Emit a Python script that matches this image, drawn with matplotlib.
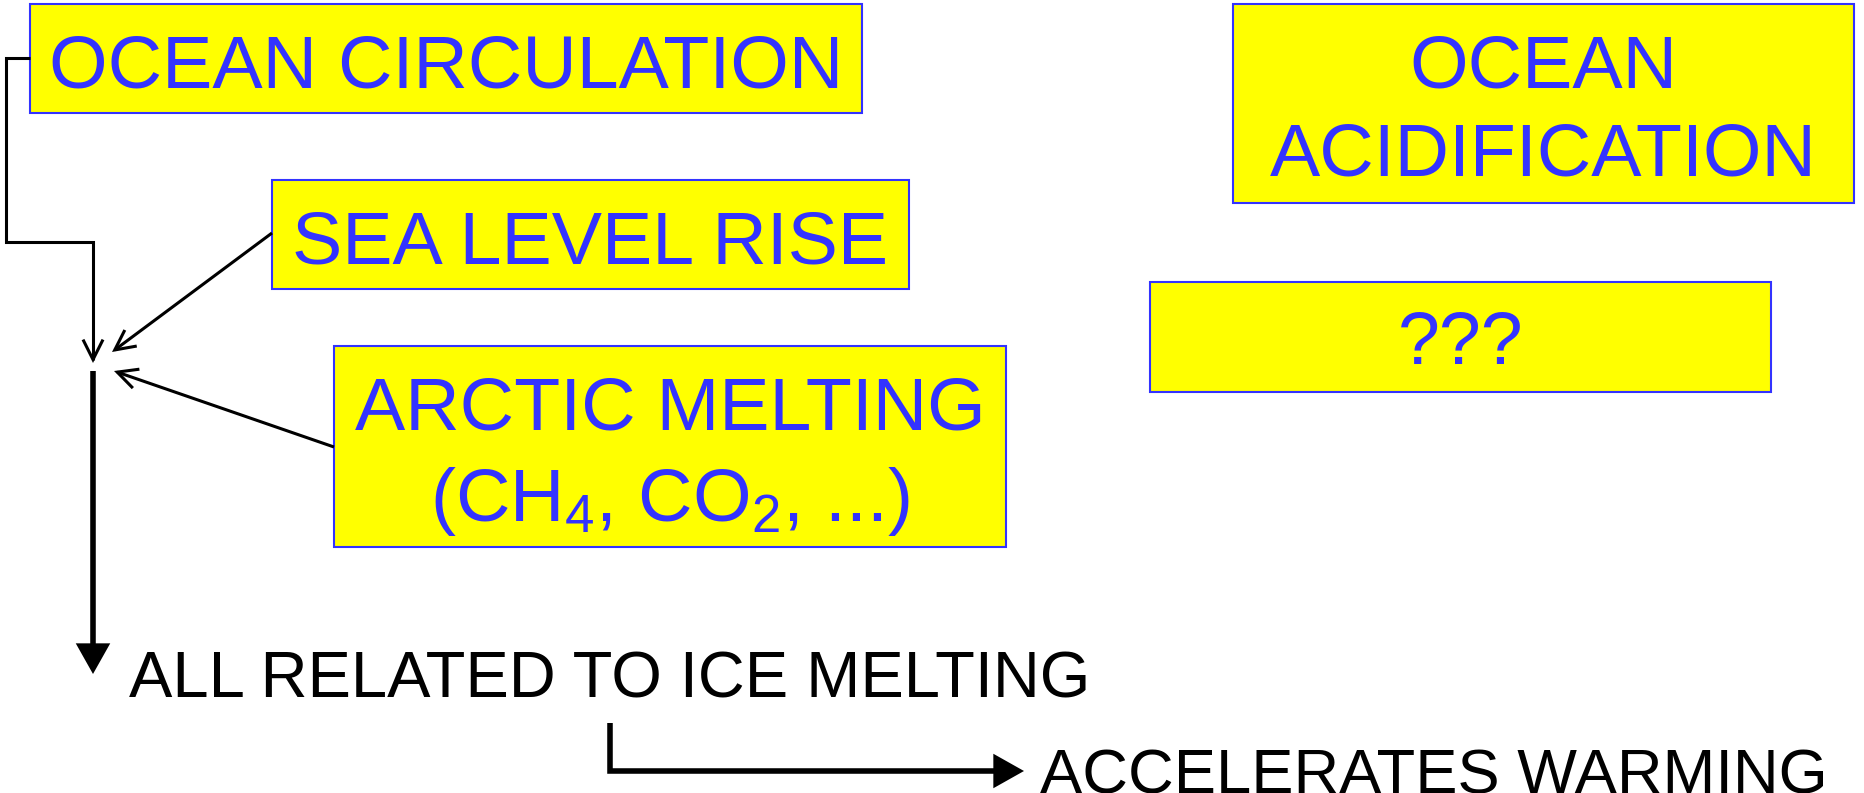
import matplotlib
matplotlib.use("Agg")
import matplotlib.pyplot as plt
from matplotlib.patches import Rectangle, FancyArrowPatch
from matplotlib.path import Path

plt.rcParams['font.family'] = ['Liberation Sans', 'DejaVu Sans']
plt.rcParams['mathtext.fontset'] = 'custom'
plt.rcParams['mathtext.rm'] = 'Liberation Sans'
plt.rcParams['mathtext.default'] = 'regular'

# boxes (pixel frame of the slide, y downwards)
box_lines = [
    ["OCEAN CIRCULATION"],
    ["SEA LEVEL RISE"],
    ["ARCTIC MELTING", "(CH$_4$, CO$_2$, ...)"],
    ["OCEAN", "ACIDIFICATION"],
    ["???"],
]
box_left = [30, 272, 334, 1233, 1150]
box_right = [862, 909, 1006, 1854, 1771]
box_top = [4, 180, 346, 4, 282]
box_bottom = [113, 289, 547, 203, 392]
line_baselines = [[88], [263], [429, 521], [88, 176], [364]]

# plain black statements
note_texts = ["ALL RELATED TO ICE MELTING", "ACCELERATES WARMING"]
note_x = [129, 1040]
note_y = [698, 794]

# connectors: polylines ending in an arrow head
thin_paths = [
    [(30, 58), (6, 58), (6, 242), (93, 242), (93, 363)],
    [(272, 233), (112, 352)],
    [(334, 447), (114, 371)],
]
thick_paths = [
    [(93, 371), (93, 674)],
    [(610, 723), (610, 771), (1024, 771)],
]

blue = "#3333FF"
yellow = "#FFFF00"

fig = plt.figure(figsize=(18.64, 7.93), dpi=100)
ax = fig.add_axes([0, 0, 1, 1])
ax.set_xlim(0, 1864)
ax.set_ylim(793, 0)
ax.axis("off")

for i, lines in enumerate(box_lines):
    w = box_right[i] - box_left[i]
    h = box_bottom[i] - box_top[i]
    ax.add_patch(Rectangle((box_left[i], box_top[i]), w, h,
                           facecolor=yellow, edgecolor=blue, linewidth=1.5))
    cx = (box_left[i] + box_right[i]) / 2
    for line, yb in zip(lines, line_baselines[i]):
        ax.text(cx, yb, line, color=blue, fontsize=54.3,
                ha="center", va="baseline")

note_sizes = [46.8, 45.5]
for txt, x, y, fs in zip(note_texts, note_x, note_y, note_sizes):
    ax.text(x, y, txt, color="black", fontsize=fs, ha="left", va="baseline")

for pts in thin_paths:
    codes = [Path.MOVETO] + [Path.LINETO] * (len(pts) - 1)
    arrow = FancyArrowPatch(path=Path(pts, codes),
                            arrowstyle="->,head_length=0.72,head_width=0.36",
                            mutation_scale=20, color="black", linewidth=2.2,
                            joinstyle="miter", capstyle="butt")
    ax.add_patch(arrow)

for pts in thick_paths:
    codes = [Path.MOVETO] + [Path.LINETO] * (len(pts) - 1)
    arrow = FancyArrowPatch(path=Path(pts, codes),
                            arrowstyle="-|>,head_length=0.8,head_width=0.45",
                            mutation_scale=20, color="black", linewidth=4,
                            joinstyle="miter", capstyle="butt")
    ax.add_patch(arrow)

fig.savefig("out.png", dpi=100)
